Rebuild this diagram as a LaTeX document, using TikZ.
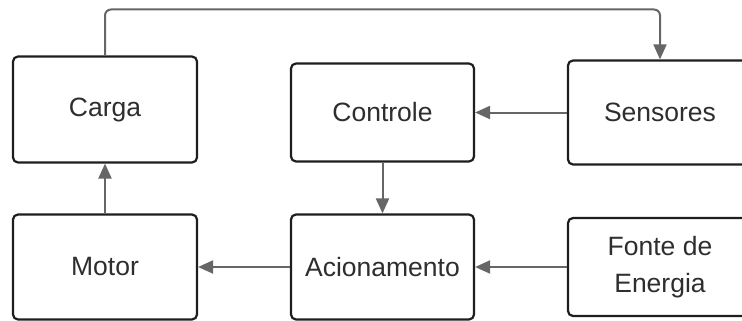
\documentclass[tikz,border=0pt]{standalone}
\usepackage{fontspec}
\setmainfont{Liberation Sans}
\usetikzlibrary{arrows.meta}
\definecolor{boxline}{HTML}{1E1E1E}
\definecolor{conn}{HTML}{666666}
\definecolor{txt}{HTML}{2E2E2E}
\begin{document}
\begin{tikzpicture}[x=1pt,y=-1pt,
  blk/.style={draw=boxline,line width=2.2pt,rounded corners=5pt,fill=white,
    inner sep=0pt,font=\fontsize{26.5}{37}\selectfont,text=txt,align=center},
  conn/.style={draw=conn,line width=2pt,-{Triangle[length=15pt,width=13pt]}}]
\useasboundingbox (0,0) rectangle (742,321);
\begin{scope}
\clip (0,0) rectangle (742,321);
\node[blk,minimum width=184pt,minimum height=106pt] (carga) at (105,109.5) {Carga};
\node[blk,minimum width=183pt,minimum height=98pt] (controle) at (382.5,112.5) {Controle};
\node[blk,minimum width=184pt,minimum height=104pt] (sensores) at (660,112.5) {Sensores};
\node[blk,minimum width=184pt,minimum height=105pt] (motor) at (105,267) {Motor};
\node[blk,minimum width=183pt,minimum height=105pt] (acion) at (382.5,267) {Acionamento};
\node[blk,minimum width=184pt,minimum height=98pt] (fonte) at (660,267) {Fonte de\\Energia};
\end{scope}
\coordinate (tl) at (105,9.5);
\coordinate (tr) at (660,9.5);
\draw[conn,rounded corners=6pt] (carga.north) -- (tl) -- (tr) -- (sensores.north);
\draw[conn] (sensores.west) -- (controle.east);
\draw[conn] (controle.south) -- (acion.north);
\draw[conn] (acion.west) -- (motor.east);
\draw[conn] (fonte.west) -- (acion.east);
\draw[conn] (motor.north) -- (carga.south);
\end{tikzpicture}
\end{document}
